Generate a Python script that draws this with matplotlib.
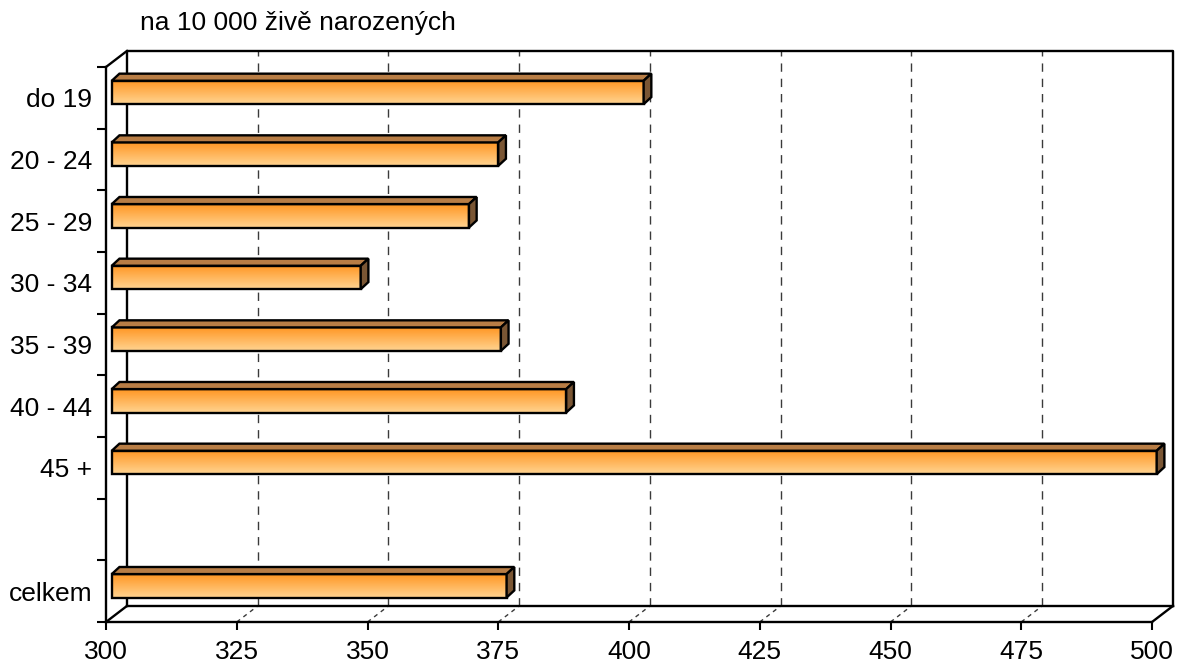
import numpy as np
import matplotlib
matplotlib.use("Agg")
import matplotlib.pyplot as plt
from matplotlib.patches import Polygon

# ----------------------------
#  Data
# ----------------------------
kategorie = ["do 19", "20 - 24", "25 - 29", "30 - 34", "35 - 39", "40 - 44", "45 +", "", "celkem"]
hodnoty = [401.7, 373.9, 368.3, 347.6, 374.4, 386.9, 499.8, None, 375.5]
x_ticks = [300, 325, 350, 375, 400, 425, 450, 475, 500]
titulek = "na 10 000 živě narozených"

plt.rcParams['font.family'] = ['Liberation Sans', 'DejaVu Sans']

# 3D look (offsets in data units)
DX, DY = 4.0, 0.26          # depth of walls
BX, BY = 1.47, 0.115        # depth of bars
FX = 1.1                    # bar front face shift
B_OFF, B_HALF = 0.087, 0.19

n = len(kategorie)
fig = plt.figure(figsize=(11.77, 6.65), dpi=100)
ax = fig.add_axes([106 / 1177, 43 / 665, 1046 / 1177, 555 / 665])
for s in ax.spines.values():
    s.set_visible(False)

lw = 1.7
xmin, xmax = x_ticks[0], x_ticks[-1]

def line(xs, ys, **kw):
    kw.setdefault('color', 'black')
    kw.setdefault('lw', lw)
    ax.plot(xs, ys, clip_on=False, solid_capstyle='projecting', **kw)

# back wall + floor back edge
line([xmin + DX, xmin + DX, xmax + DX, xmax + DX], [DY, n + DY, n + DY, DY], zorder=2)
line([xmin + DX, xmax + DX], [DY, DY], zorder=2)

# gridlines (back wall + floor)
for v in x_ticks[1:-1]:
    line([v + DX, v + DX], [DY, n + DY], color='#3a3a3a', lw=1.0, dashes=(6, 5), zorder=1)
    line([v, v + DX], [0, DY], color='#3a3a3a', lw=1.0, dashes=(3, 3), zorder=1)

# front edges
line([xmin, xmin], [0, n], zorder=6)
line([xmin, xmax], [0, 0], zorder=6)
line([xmin, xmin + DX], [n, n + DY], zorder=6)
line([xmin, xmin + DX], [0, DY], zorder=6)
line([xmax, xmax + DX], [0, DY], zorder=6)

# bars
grad = np.linspace(0, 1, 64).reshape(-1, 1)
c_top = np.array([255, 150, 35]) / 255
c_bot = np.array([255, 212, 145]) / 255
img = c_top[None, None, :] * (1 - grad[:, :, None]) + c_bot[None, None, :] * grad[:, :, None]

for i, v in enumerate(hodnoty):
    if v is None:
        continue
    yc = n - i - 0.5 + B_OFF
    x0, x1 = xmin + FX, v + FX
    y0, y1 = yc - B_HALF, yc + B_HALF
    ax.imshow(img, extent=[x0, x1, y0, y1], aspect='auto', origin='upper',
              zorder=4, clip_on=False, interpolation='bilinear')
    ax.add_patch(Polygon([[x0, y0], [x1, y0], [x1, y1], [x0, y1]], closed=True,
                         fc='none', ec='black', lw=lw, zorder=5, clip_on=False, joinstyle='miter'))
    ax.add_patch(Polygon([[x0, y1], [x1, y1], [x1 + BX, y1 + BY], [x0 + BX, y1 + BY]], closed=True,
                         fc='#b87d45', ec='black', lw=lw, zorder=5, clip_on=False, joinstyle='miter'))
    ax.add_patch(Polygon([[x1, y0], [x1 + BX, y0 + BY], [x1 + BX, y1 + BY], [x1, y1]], closed=True,
                         fc='#7a5634', ec='black', lw=lw, zorder=5, clip_on=False, joinstyle='miter'))

ax.set_xlim(xmin, xmax)
ax.set_ylim(0, n)

ax.set_xticks(x_ticks)
ax.set_xticklabels([str(t) for t in x_ticks])
ax.tick_params(axis='x', direction='out', length=6, width=1.5, pad=7, labelsize=19)

ax.set_yticks([n - i - 0.5 for i in range(n)])
ax.set_yticklabels(kategorie)
ax.set_yticks(np.arange(0, n + 1), minor=True)
ax.tick_params(axis='y', which='major', length=0, pad=10, labelsize=19)
ax.tick_params(axis='y', which='minor', direction='out', length=6.5, width=1.5)
ax.set_facecolor('white')

fig.text(140 / 1177, 1 - 30 / 665, titulek, fontsize=19, va='baseline', ha='left')

fig.savefig("out.png", dpi=100, facecolor='white')
